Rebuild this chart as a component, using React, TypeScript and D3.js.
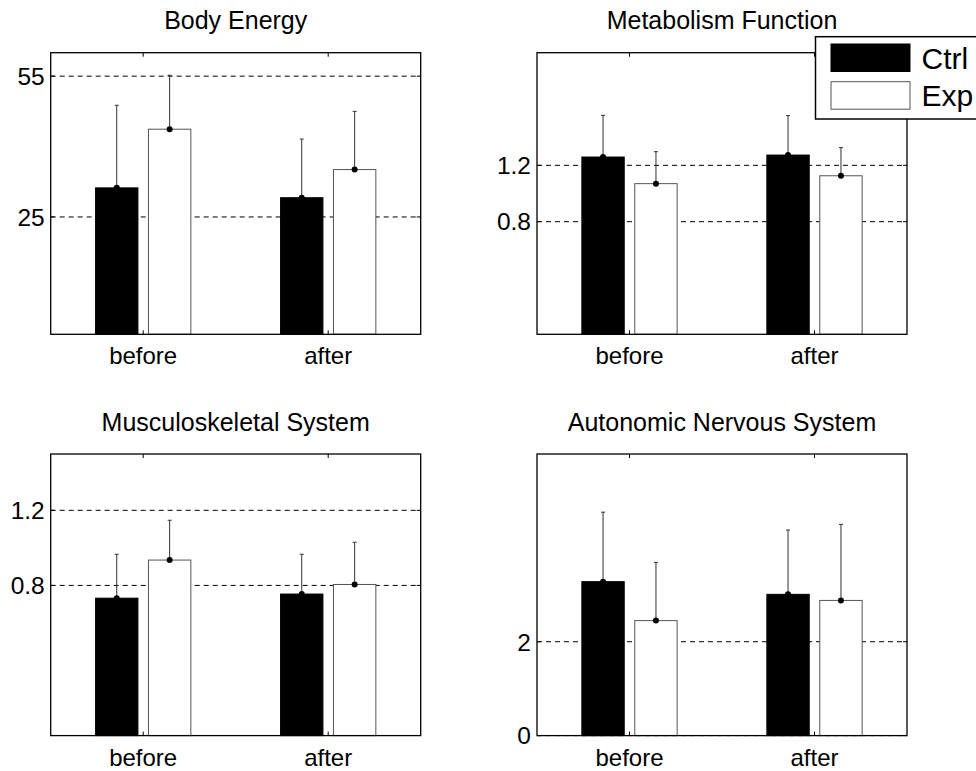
import React from "react";
import * as d3 from "d3";

// Group labels along the x axis and the two series
const groups = ["before", "after"];
const seriesNames = ["Ctrl", "Exp"];

// Panel titles
const titles = [
  "Body Energy",
  "Metabolism Function",
  "Musculoskeletal System",
  "Autonomic Nervous System",
];

// Means per panel: [before, after]
const bodyEnergyCtrl = [31.2, 29.1];
const bodyEnergyExp = [43.7, 35.1];
const metabolismCtrl = [1.259, 1.273];
const metabolismExp = [1.07, 1.126];
const musculoCtrl = [0.732, 0.754];
const musculoExp = [0.935, 0.805];
const autonomicCtrl = [3.28, 3.01];
const autonomicExp = [2.45, 2.88];

// Upper error (standard deviation) per panel: [before, after]
const bodyEnergyCtrlErr = [17.6, 12.5];
const bodyEnergyExpErr = [11.5, 12.4];
const metabolismCtrlErr = [0.296, 0.28];
const metabolismExpErr = [0.227, 0.2];
const musculoCtrlErr = [0.234, 0.212];
const musculoExpErr = [0.212, 0.225];
const autonomicCtrlErr = [1.48, 1.37];
const autonomicExpErr = [1.24, 1.62];

// Y-axis limits and tick values
const yMax = [60, 2, 1.5, 6];
const yTicks = [[25, 55], [0.8, 1.2], [0.8, 1.2], [0, 2]];

const panels = [
  { title: titles[0], ctrl: bodyEnergyCtrl, exp: bodyEnergyExp, ctrlErr: bodyEnergyCtrlErr, expErr: bodyEnergyExpErr, yMax: yMax[0], ticks: yTicks[0] },
  { title: titles[1], ctrl: metabolismCtrl, exp: metabolismExp, ctrlErr: metabolismCtrlErr, expErr: metabolismExpErr, yMax: yMax[1], ticks: yTicks[1] },
  { title: titles[2], ctrl: musculoCtrl, exp: musculoExp, ctrlErr: musculoCtrlErr, expErr: musculoExpErr, yMax: yMax[2], ticks: yTicks[2] },
  { title: titles[3], ctrl: autonomicCtrl, exp: autonomicExp, ctrlErr: autonomicCtrlErr, expErr: autonomicExpErr, yMax: yMax[3], ticks: yTicks[3] },
];

const W = 976;
const H = 771;
const colLeft = [50.7, 537];
const colWidth = 370;
const rowTop = [52.7, 454];
const rowHeight = 281.6;

const FONT = "'Liberation Sans', Arial, Helvetica, sans-serif";
const BAR_W = 0.229;
const OFFSET = 0.143;
const TICK_LEN = 4;

function Panel({ p, left, top }: { p: typeof panels[number]; left: number; top: number }) {
  const x = d3.scaleLinear().domain([0.5, 2.5]).range([left, left + colWidth]);
  const y = d3.scaleLinear().domain([0, p.yMax]).range([top + rowHeight, top]);
  const bottom = top + rowHeight;
  const right = left + colWidth;
  const bw = x(BAR_W) - x(0);

  const series = [
    { vals: p.ctrl, errs: p.ctrlErr, off: -OFFSET, fill: "#000", stroke: "#000" },
    { vals: p.exp, errs: p.expErr, off: OFFSET, fill: "#fff", stroke: "#555" },
  ];

  return (
    <g>
      <text x={(left + right) / 2} y={top - 23.5} textAnchor="middle" fontSize={25} fontFamily={FONT}>
        {p.title}
      </text>
      {/* dashed grid lines behind the bars */}
      {p.ticks.map((t) => (
        <line key={"g" + t} x1={left} x2={right} y1={y(t)} y2={y(t)} stroke="#000" strokeWidth={1} strokeDasharray="5,4" />
      ))}
      {series.map((s, si) =>
        s.vals.map((v, gi) => {
          const cx = x(gi + 1 + s.off);
          return (
            <g key={`b${si}-${gi}`}>
              <rect x={cx - bw / 2} y={y(v)} width={bw} height={bottom - y(v)} fill={s.fill} stroke={s.stroke} strokeWidth={1} />
              <line x1={cx} x2={cx} y1={y(v)} y2={y(v + s.errs[gi])} stroke="#333" strokeWidth={1} />
              <line x1={cx - 2} x2={cx + 2} y1={y(v + s.errs[gi])} y2={y(v + s.errs[gi])} stroke="#333" strokeWidth={1} />
              <circle cx={cx} cy={y(v)} r={3} fill="#000" />
            </g>
          );
        })
      )}
      {/* axis box */}
      <rect x={left} y={top} width={colWidth} height={rowHeight} fill="none" stroke="#000" strokeWidth={1.3} />
      {/* x ticks, inside on bottom and top */}
      {groups.map((g, i) => (
        <g key={"x" + g}>
          <line x1={x(i + 1)} x2={x(i + 1)} y1={bottom} y2={bottom - TICK_LEN} stroke="#000" />
          <line x1={x(i + 1)} x2={x(i + 1)} y1={top} y2={top + TICK_LEN} stroke="#000" />
          <text x={x(i + 1)} y={bottom + 30} textAnchor="middle" fontSize={24} fontFamily={FONT}>
            {g}
          </text>
        </g>
      ))}
      {/* y ticks, inside on left and right */}
      {p.ticks.map((t) => (
        <g key={"y" + t}>
          <line x1={left} x2={left + TICK_LEN} y1={y(t)} y2={y(t)} stroke="#000" />
          <line x1={right} x2={right - TICK_LEN} y1={y(t)} y2={y(t)} stroke="#000" />
          <text x={left - 6} y={y(t)} dy="0.36em" textAnchor="end" fontSize={24.5} fontFamily={FONT}>
            {String(t)}
          </text>
        </g>
      ))}
    </g>
  );
}

function Legend() {
  const lx = 815.5;
  const ly = 36.7;
  const swX = 831;
  const swW = 79;
  const swH = 27.5;
  const rows = [
    { name: seriesNames[0], y: 44, fill: "#000", stroke: "#000" },
    { name: seriesNames[1], y: 81.7, fill: "#fff", stroke: "#555" },
  ];
  return (
    <g>
      <rect x={lx} y={ly} width={180} height={82.3} fill="#fff" stroke="#000" strokeWidth={1.5} />
      {rows.map((r) => (
        <g key={r.name}>
          <rect x={swX} y={r.y} width={swW} height={swH} fill={r.fill} stroke={r.stroke} strokeWidth={1} />
          <text x={921.5} y={r.y + swH / 2} dy="0.36em" fontSize={30} fontFamily={FONT}>
            {r.name}
          </text>
        </g>
      ))}
    </g>
  );
}

export default function App() {
  return (
    <>
      <style>{`body{margin:0}`}</style>
      <svg width={W} height={H} style={{ display: "block", background: "#fff" }}>
        <rect width={W} height={H} fill="#fff" />
        {panels.map((p, i) => (
          <Panel key={p.title} p={p} left={colLeft[i % 2]} top={rowTop[Math.floor(i / 2)]} />
        ))}
        <Legend />
      </svg>
    </>
  );
}
